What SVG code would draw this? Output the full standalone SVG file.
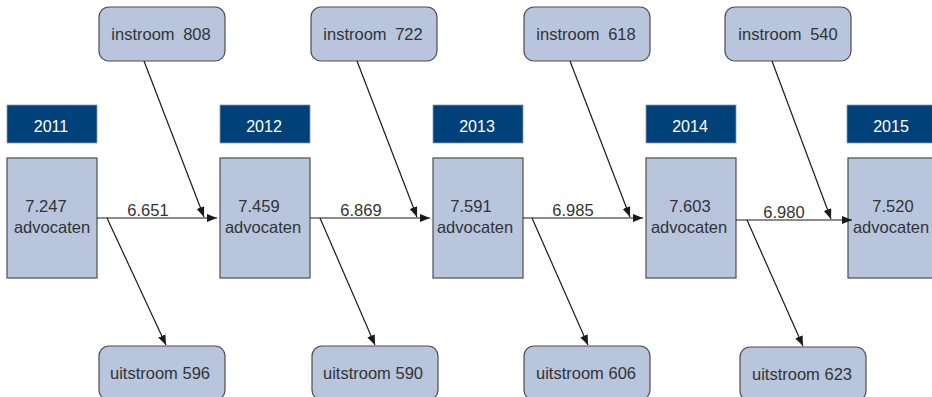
<svg xmlns="http://www.w3.org/2000/svg" width="932" height="397" viewBox="0 0 932 397">
<defs>
<style>
.box{fill:#b8c5dd;stroke:#4d4d4d;stroke-width:1.2}
.hdr{fill:#00417a;stroke:#8a9ab0;stroke-width:0.8}
.t{font-family:"Liberation Sans",Arial,sans-serif;font-size:16.5px;fill:#333333;text-anchor:middle}
.h{font-family:"Liberation Sans",Arial,sans-serif;font-size:16px;fill:#ffffff;text-anchor:middle}
.c{stroke:#1a1a1a;stroke-width:1.2;fill:none;marker-end:url(#ah)}
</style>
<marker id="ah" markerUnits="userSpaceOnUse" markerWidth="11" markerHeight="9" refX="10" refY="4" orient="auto">
<path d="M0,0 L10,4 L0,8 z" fill="#1a1a1a"/>
</marker>
</defs>
<rect width="932" height="397" fill="#ffffff"/>

<g id="y2011">
<rect class="hdr" x="7" y="105" width="90" height="38"/>
<text class="h" x="51" y="132">2011</text>
<rect class="box" x="7" y="158" width="90" height="120"/>
<text class="t" x="46" y="212">7.247</text>
<text class="t" x="52" y="233">advocaten</text>
</g>
<g id="y2012">
<rect class="hdr" x="220" y="105" width="90" height="38"/>
<text class="h" x="264" y="132">2012</text>
<rect class="box" x="220" y="158" width="90" height="120"/>
<text class="t" x="259" y="212">7.459</text>
<text class="t" x="263" y="233">advocaten</text>
</g>
<g id="y2013">
<rect class="hdr" x="433" y="105" width="90" height="38"/>
<text class="h" x="477" y="132">2013</text>
<rect class="box" x="433" y="158" width="90" height="120"/>
<text class="t" x="471" y="212">7.591</text>
<text class="t" x="475" y="233">advocaten</text>
</g>
<g id="y2014">
<rect class="hdr" x="646" y="105" width="90" height="38"/>
<text class="h" x="690" y="132">2014</text>
<rect class="box" x="646" y="158" width="90" height="120"/>
<text class="t" x="690" y="212">7.603</text>
<text class="t" x="689" y="233">advocaten</text>
</g>
<g id="y2015">
<rect class="hdr" x="847" y="105" width="90" height="38"/>
<text class="h" x="891" y="132">2015</text>
<rect class="box" x="848" y="158" width="90" height="120"/>
<text class="t" x="893" y="212">7.520</text>
<text class="t" x="891" y="233">advocaten</text>
</g>

<g id="in2012">
<rect class="box" x="99" y="7" width="126" height="54" rx="10"/>
<text class="t" x="161" y="40" word-spacing="4">instroom 808</text>
</g>
<g id="in2013">
<rect class="box" x="311" y="7" width="126" height="54" rx="10"/>
<text class="t" x="373" y="40" word-spacing="4">instroom 722</text>
</g>
<g id="in2014">
<rect class="box" x="524" y="7" width="126" height="54" rx="10"/>
<text class="t" x="586" y="40" word-spacing="4">instroom 618</text>
</g>
<g id="in2015">
<rect class="box" x="725" y="7" width="126" height="54" rx="10"/>
<text class="t" x="788" y="40" word-spacing="4">instroom 540</text>
</g>

<g id="out2011">
<rect class="box" x="99" y="346" width="126" height="54" rx="10"/>
<text class="t" x="160" y="379">uitstroom 596</text>
</g>
<g id="out2012">
<rect class="box" x="312" y="346" width="126" height="54" rx="10"/>
<text class="t" x="373" y="379">uitstroom 590</text>
</g>
<g id="out2013">
<rect class="box" x="524" y="346" width="126" height="54" rx="10"/>
<text class="t" x="586" y="379">uitstroom 606</text>
</g>
<g id="out2014">
<rect class="box" x="740" y="347" width="126" height="54" rx="10"/>
<text class="t" x="802" y="380">uitstroom 623</text>
</g>

<g id="connectors">
<line class="c" x1="97" y1="218" x2="217" y2="218"/>
<line class="c" x1="310" y1="218" x2="430" y2="218"/>
<line class="c" x1="523" y1="218" x2="643" y2="218"/>
<line class="c" x1="736" y1="220" x2="852" y2="220"/>
<line class="c" x1="144" y1="61" x2="204" y2="217"/>
<line class="c" x1="357" y1="61" x2="417" y2="217"/>
<line class="c" x1="570" y1="61" x2="630" y2="217"/>
<line class="c" x1="772" y1="61" x2="831" y2="219"/>
<line class="c" x1="107" y1="218" x2="166" y2="345"/>
<line class="c" x1="320" y1="218" x2="375" y2="345"/>
<line class="c" x1="532" y1="218" x2="588" y2="345"/>
<line class="c" x1="747" y1="220" x2="803" y2="346"/>
<text class="t" x="148" y="216">6.651</text>
<text class="t" x="361" y="216">6.869</text>
<text class="t" x="573" y="216">6.985</text>
<text class="t" x="784" y="218">6.980</text>
</g>
</svg>
